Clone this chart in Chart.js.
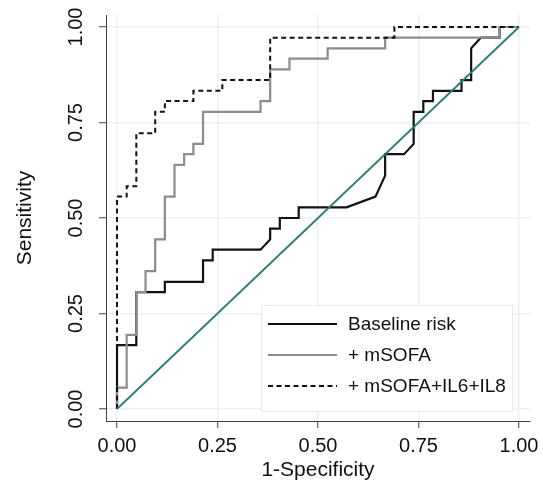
<!DOCTYPE html>
<html>
<head>
<meta charset="utf-8">
<script src="https://cdn.jsdelivr.net/npm/chart.js@4.4.0/dist/chart.umd.min.js"></script>
<style>
  html, body { margin: 0; padding: 0; background: #fff; }
  #wrap { width: 543px; height: 491px; }
</style>
</head>
<body>
<div id="wrap"><canvas id="rocChart" width="543" height="491"></canvas></div>
<script>
// ROC curves: [1-specificity, sensitivity] pairs
var baselineFpr = [0, 0, 0.048, 0.048, 0.119, 0.119, 0.214, 0.214, 0.238, 0.238, 0.357, 0.381, 0.381, 0.405, 0.405, 0.452, 0.452, 0.571, 0.643, 0.667, 0.667, 0.714, 0.738, 0.738, 0.762, 0.762, 0.786, 0.786, 0.857, 0.857, 0.881, 0.881, 0.905, 0.952, 0.952, 1];
var baselineTpr = [0, 0.167, 0.167, 0.306, 0.306, 0.333, 0.333, 0.389, 0.389, 0.417, 0.417, 0.444, 0.472, 0.472, 0.5, 0.5, 0.528, 0.528, 0.556, 0.611, 0.667, 0.667, 0.694, 0.778, 0.778, 0.806, 0.806, 0.833, 0.833, 0.861, 0.861, 0.944, 0.972, 0.972, 1, 1];

var msofaFpr = [0, 0, 0.024, 0.024, 0.048, 0.048, 0.071, 0.071, 0.095, 0.095, 0.119, 0.119, 0.143, 0.143, 0.167, 0.167, 0.190, 0.190, 0.214, 0.214, 0.357, 0.357, 0.381, 0.381, 0.429, 0.429, 0.524, 0.524, 0.667, 0.667, 0.952, 0.952, 1];
var msofaTpr = [0, 0.056, 0.056, 0.194, 0.194, 0.306, 0.306, 0.361, 0.361, 0.444, 0.444, 0.556, 0.556, 0.639, 0.639, 0.667, 0.667, 0.694, 0.694, 0.778, 0.778, 0.806, 0.806, 0.889, 0.889, 0.917, 0.917, 0.944, 0.944, 0.972, 0.972, 1, 1];

var comboFpr = [0, 0, 0.024, 0.024, 0.048, 0.048, 0.095, 0.095, 0.119, 0.119, 0.190, 0.190, 0.262, 0.262, 0.381, 0.381, 0.690, 0.690, 1];
var comboTpr = [0, 0.556, 0.556, 0.583, 0.583, 0.722, 0.722, 0.778, 0.778, 0.806, 0.806, 0.833, 0.833, 0.861, 0.861, 0.972, 0.972, 1, 1];

var refFpr = [0, 1];
var refTpr = [0, 1];

var tickValues = [0, 0.25, 0.5, 0.75, 1];
var labels = ['Baseline risk', '+ mSOFA', '+ mSOFA+IL6+IL8'];

function toPoints(xs, ys) {
  var pts = [];
  for (var i = 0; i < xs.length; i++) pts.push({ x: xs[i], y: ys[i] });
  return pts;
}

var FONT = "'Liberation Sans', Arial, sans-serif";
var GRID = '#e9f1f3';
var AXIS = '#404040';

/* legend box drawn inside the plot, lower right, like the original */
var boxLegend = {
  id: 'boxLegend',
  afterDatasetsDraw: function (chart) {
    var ctx = chart.ctx;
    var area = chart.chartArea;
    var w = 252, h = 107;
    var x0 = area.right - 17 - w;
    var y0 = area.bottom - 9 - h;
    ctx.save();
    ctx.fillStyle = '#ffffff';
    ctx.fillRect(x0, y0, w, h);
    ctx.strokeStyle = '#e4ecee';
    ctx.lineWidth = 1;
    ctx.strokeRect(x0 + 0.5, y0 + 0.5, w - 1, h - 1);
    ctx.font = '19px ' + FONT;
    ctx.textBaseline = 'middle';
    ctx.fillStyle = '#111';
    var rows = [chart.data.datasets[3], chart.data.datasets[2], chart.data.datasets[1]];
    for (var i = 0; i < rows.length; i++) {
      var ds = rows[i];
      var yy = y0 + 19 + i * 31;
      ctx.beginPath();
      ctx.strokeStyle = ds.borderColor;
      ctx.lineWidth = ds.borderWidth;
      ctx.setLineDash(ds.borderDash || []);
      ctx.moveTo(x0 + 7, yy);
      ctx.lineTo(x0 + 76, yy);
      ctx.stroke();
      ctx.setLineDash([]);
      ctx.fillText(ds.label, x0 + 87, yy + 1);
    }
    ctx.restore();
  }
};

const config = {
  type: 'scatter',
  data: {
    datasets: [
      {
        label: 'reference',
        data: toPoints(refFpr, refTpr),
        showLine: true,
        borderColor: '#2b7d74',
        borderWidth: 1.8,
        pointRadius: 0
      },
      {
        label: labels[2],
        data: toPoints(comboFpr, comboTpr),
        showLine: true,
        borderColor: '#111111',
        borderWidth: 2,
        borderDash: [5, 3.5],
        pointRadius: 0
      },
      {
        label: labels[1],
        data: toPoints(msofaFpr, msofaTpr),
        showLine: true,
        borderColor: '#8c8c8c',
        borderWidth: 2.2,
        pointRadius: 0
      },
      {
        label: labels[0],
        data: toPoints(baselineFpr, baselineTpr),
        showLine: true,
        borderColor: '#111111',
        borderWidth: 2.2,
        pointRadius: 0
      }
    ]
  },
  options: {
    responsive: false,
    animation: false,
    layout: {
      padding: { top: 15, right: 13, left: 0, bottom: 0 }
    },
    scales: {
      x: {
        type: 'linear',
        min: -0.0274,
        max: 1.0274,
        afterBuildTicks: function (scale) {
          scale.ticks = tickValues.map(function (v) { return { value: v }; });
        },
        afterFit: function (scale) {
          scale.height = 70;
          scale.paddingLeft = 0;
          scale.paddingRight = 0;
        },
        grid: {
          color: GRID,
          lineWidth: 1.5,
          tickColor: AXIS,
          tickWidth: 1,
          tickLength: 7
        },
        border: { color: AXIS, width: 1 },
        ticks: {
          color: '#111',
          padding: 6,
          maxRotation: 0,
          font: { family: FONT, size: 20 },
          callback: function (v) { return Number(v).toFixed(2); }
        },
        title: {
          display: true,
          text: '1-Specificity',
          color: '#111',
          font: { family: FONT, size: 21 },
          padding: { top: 0, bottom: 8 }
        }
      },
      y: {
        type: 'linear',
        min: -0.0314,
        max: 1.0314,
        afterBuildTicks: function (scale) {
          scale.ticks = tickValues.map(function (v) { return { value: v }; });
        },
        afterFit: function (scale) {
          scale.width = 106;
          scale.paddingTop = 0;
          scale.paddingBottom = 0;
        },
        grid: {
          color: GRID,
          lineWidth: 1.5,
          tickColor: AXIS,
          tickWidth: 1,
          tickLength: 7
        },
        border: { color: AXIS, width: 1 },
        ticks: {
          color: '#111',
          padding: 3,
          minRotation: 90,
          maxRotation: 90,
          crossAlign: 'center',
          font: { family: FONT, size: 20 },
          callback: function (v) { return Number(v).toFixed(2); }
        },
        title: {
          display: true,
          text: 'Sensitivity',
          color: '#111',
          font: { family: FONT, size: 21 },
          padding: { top: 13, bottom: 0 }
        }
      }
    },
    plugins: {
      legend: { display: false },
      tooltip: { enabled: false }
    }
  },
  plugins: [boxLegend]
};

var rocChart = new Chart(document.getElementById('rocChart'), config);
</script>
</body>
</html>
